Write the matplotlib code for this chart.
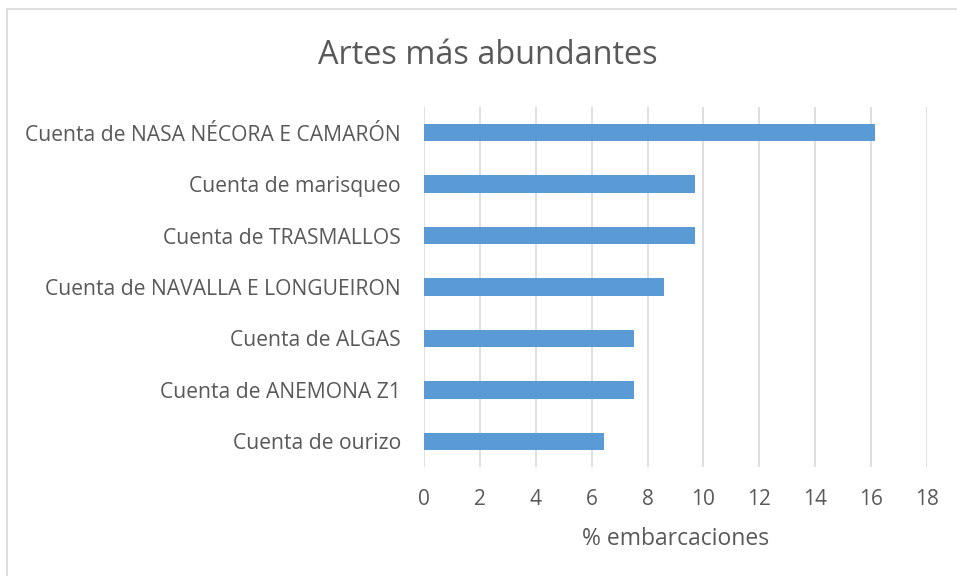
import matplotlib
matplotlib.use("Agg")
import matplotlib.pyplot as plt
from matplotlib.patches import Rectangle

categories = ["Cuenta de NASA NÉCORA E CAMARÓN", "Cuenta de marisqueo", "Cuenta de TRASMALLOS",
              "Cuenta de NAVALLA E LONGUEIRON", "Cuenta de ALGAS", "Cuenta de ANEMONA Z1",
              "Cuenta de ourizo"]
values = [16.13, 9.68, 9.68, 8.60, 7.53, 7.53, 6.45]
xticks = [0, 2, 4, 6, 8, 10, 12, 14, 16, 18]

plt.rcParams['font.family'] = ['Open Sans', 'DejaVu Sans']
text_color = "#595959"

fig = plt.figure(figsize=(9.57, 5.76), dpi=100)
fig.patches.append(Rectangle((7/957, -0.1), 1.2, 1 - 9/576 + 0.1, transform=fig.transFigure,
                             fill=False, edgecolor="#D9D9D9", linewidth=1.2))
ax = fig.add_axes([424/957, 1 - 467/576, (927 - 424)/957, (467 - 107)/576])

ypos = list(range(len(categories)))
ax.barh(ypos, values, height=0.34, color="#5B9BD5", zorder=3)
ax.set_ylim(len(categories) - 0.5, -0.5)
ax.set_xlim(0, 18)
ax.set_xticks(xticks)
ax.set_xticklabels([str(t) for t in xticks], fontsize=15, color=text_color)
ax.set_yticks(ypos)
ax.set_yticklabels(categories, fontsize=15.2, color=text_color)
ax.tick_params(axis='both', length=0)
ax.tick_params(axis='x', pad=16)
ax.tick_params(axis='y', pad=16.5)
ax.grid(axis='x', color="#D9D9D9", linewidth=1.2, zorder=0)
for s in ax.spines.values():
    s.set_visible(False)
ax.set_xlabel("% embarcaciones", fontsize=16.5, color=text_color, labelpad=12)
fig.text(488/957, 1 - 55/576, "Artes más abundantes", ha='center', va='center',
         fontsize=23.4, color=text_color)

fig.savefig("out.png", dpi=100)
